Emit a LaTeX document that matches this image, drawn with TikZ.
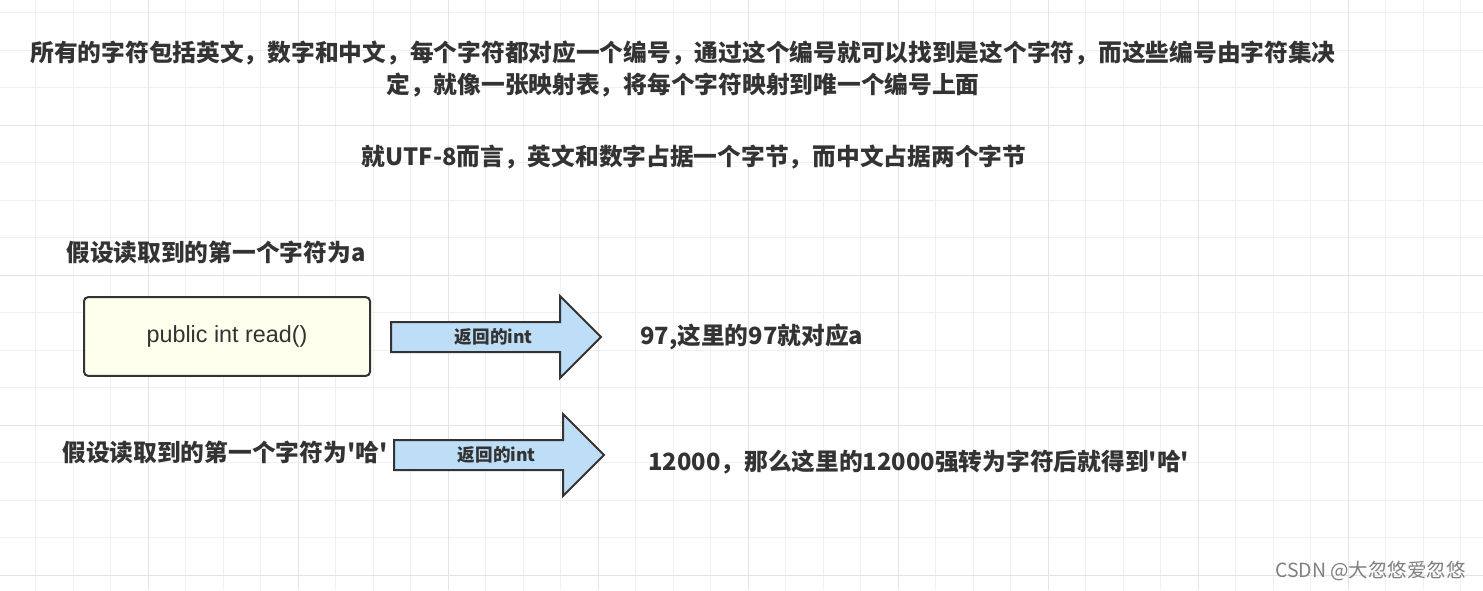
\documentclass[tikz,border=0pt]{standalone}
\usepackage{fontspec}
\setmainfont{Noto Sans CJK SC}[Ligatures=TeXOff]
\newfontfamily\codefont{Liberation Sans}
\usetikzlibrary{shapes.arrows}
\definecolor{inkgray}{RGB}{51,51,51}
\definecolor{memo}{RGB}{255,255,238}
\definecolor{skyfill}{RGB}{190,222,248}
\definecolor{gridlight}{RGB}{240,240,240}
\definecolor{griddark}{RGB}{228,228,228}
\tikzstyle{gridline}=[draw=gridlight,line width=0.75pt]
\tikzstyle{gridmajor}=[draw=griddark,line width=0.75pt]
\tikzstyle{note}=[text=inkgray,font=\bfseries\fontsize{17.8}{24}\selectfont,inner sep=0pt]
\tikzstyle{codebox}=[draw=inkgray,fill=memo,line width=1.5pt,rounded corners=3pt,
  minimum width=214.5pt,minimum height=59pt,text=inkgray,font=\codefont\fontsize{17.5}{20}\selectfont]
\tikzstyle{retarrow}=[single arrow,draw=inkgray,fill=skyfill,line width=1.5pt,
  single arrow head extend=19.5pt,minimum height=157.5pt,text height=11pt,text depth=1pt,
  inner ysep=4.5pt,inner xsep=0pt,anchor=tail,text=inkgray,font=\bfseries\fontsize{13.2}{15}\selectfont]

\begin{document}
\begin{tikzpicture}[x=0.75pt,y=-0.75pt]
  \useasboundingbox[fill=white] (0,0) rectangle (1483,590);
  % background grid
  \foreach \gx in {35.5,73,...,1483}
    \draw[gridline] (\gx,0) -- (\gx,590);
  \foreach \gy in {12.5,50,...,590}
    \draw[gridline] (0,\gy) -- (1483,\gy);
  \foreach \gx in {148,298,...,1483}
    \draw[gridmajor] (\gx,0) -- (\gx,590);
  \foreach \gy in {125,275,425,575}
    \draw[gridmajor] (0,\gy) -- (1483,\gy);

  \node[note,align=center] (intro) at (683,69)
    {所有的字符包括英文，数字和中文，每个字符都对应一个编号，通过这个编号就可以找到是这个字符，而这些编号由字符集决\\定，就像一张映射表，将每个字符映射到唯一个编号上面};
  \node[note] (utf) at (694,157) {就UTF-8而言，英文和数字占据一个字节，而中文占据两个字节};

  \node[note,anchor=west] (casea) at (66,252) {假设读取到的第一个字符为a};
  \node[codebox] (readbox) at (227,336.5) {public int read()};
  \node[retarrow] (ret1) at (390,337) {\hspace*{8pt}返回的int};
  \node[note,anchor=west] (res1) at (640,337) {97,这里的97就对应a};

  \node[note,anchor=west] (caseha) at (62,452) {假设读取到的第一个字符为'哈'};
  \node[retarrow] (ret2) at (393,455) {\hspace*{8pt}返回的int};
  \node[note,anchor=west] (res2) at (648,462) {12000，那么这里的12000强转为字符后就得到'哈'};

  \node[anchor=east,text=gray,font=\fontsize{14.6}{16}\selectfont,inner sep=0pt] (mark) at (1466,571)
    {CSDN @大忽悠爱忽悠};
\end{tikzpicture}
\end{document}
